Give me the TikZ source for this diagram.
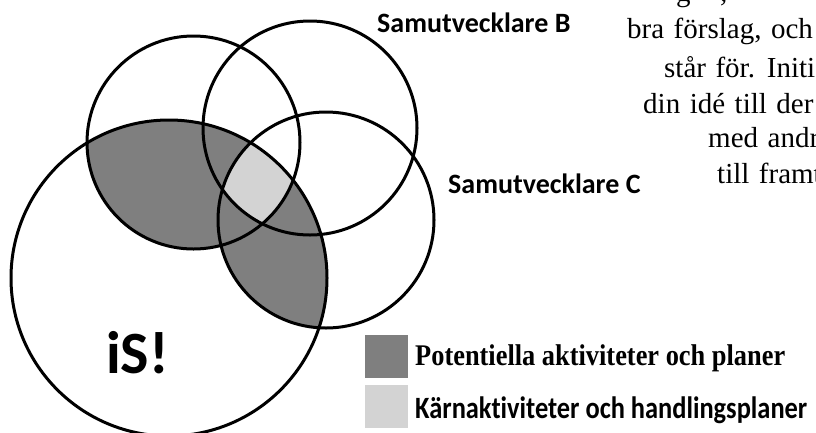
\documentclass[tikz,border=0pt]{standalone}
\usepackage{fontspec}
\usepackage{graphicx}
\setmainfont{Liberation Serif}
\newfontfamily\carlito{Carlito}[Ligatures=NoCommon]
\definecolor{darkfill}{RGB}{127,127,127}
\definecolor{lightfill}{RGB}{211,211,211}
\newcommand{\parafont}{\fontsize{29}{31}\selectfont\spaceskip 9.5pt\relax}
\begin{document}
\begin{tikzpicture}[x=1pt,y=-1pt,
  ring/.style={draw=black,line width=3pt},
  lbl/.style={anchor=base west,inner sep=0pt,font=\carlito\bfseries\fontsize{28}{30}\selectfont},
  para/.style={anchor=base west,inner sep=0pt,font=\parafont},
  legbox/.style={inner sep=0pt,minimum width=43pt,minimum height=43pt,anchor=north west}]
\useasboundingbox (0,0) rectangle (816,432);
\clip (0,0) rectangle (816,432);
\coordinate (cS) at (169,278);
\coordinate (cA) at (193.5,142.5);
\coordinate (cB) at (310,128);
\coordinate (cC) at (326,220);
% dark region
\begin{scope}
  \clip (cS) circle[radius=158pt];
  \fill[darkfill] (cA) circle[radius=106.5pt];
  \fill[darkfill] (cC) circle[radius=108pt];
\end{scope}
% light region
\begin{scope}
  \clip (cS) circle[radius=158pt];
  \clip (cA) circle[radius=106.5pt];
  \clip (cB) circle[radius=107pt];
  \fill[lightfill] (cC) circle[radius=108pt];
\end{scope}
\draw[ring] (cS) circle[radius=158pt];
\draw[ring] (cA) circle[radius=106.5pt];
\draw[ring] (cB) circle[radius=107pt];
\draw[ring] (cC) circle[radius=108pt];
% labels
\node[lbl] (labB) at (377,32) {Samutvecklare B};
\node[lbl] (labC) at (448,193) {Samutvecklare C};
\node[anchor=base west,inner sep=0pt,font=\carlito\bfseries\fontsize{60}{62}\selectfont] (labS) at (106,373) {iS!};
% paragraph fragments
\node[para] (p0a) at (676,1) {g};
\node[para] (p0b) at (720,1) {,};
\node[para] (p1) at (627,38) {bra förslag, och};
\node[para] (p2) at (664,77) {står för. Initi};
\node[para] (p3) at (643,113) {din idé till der};
\node[para] (p4) at (708,147) {med andr};
\node[para] (p5) at (717,183) {till framt};
% legend
\node[legbox,fill=darkfill] (sq1) at (365,335) {};
\node[legbox,fill=lightfill] (sq2) at (365,385) {};
\node[anchor=base west,inner sep=0pt,font=\bfseries\fontsize{30}{32}\selectfont] (leg1) at (415,365) {\resizebox{370pt}{\height}{Potentiella aktiviteter och planer}};
\node[anchor=base west,inner sep=0pt,font=\carlito\bfseries\fontsize{31}{33}\selectfont] (leg2) at (415,418) {\resizebox{392pt}{\height}{Kärnaktiviteter och handlingsplaner}};
\end{tikzpicture}
\end{document}
